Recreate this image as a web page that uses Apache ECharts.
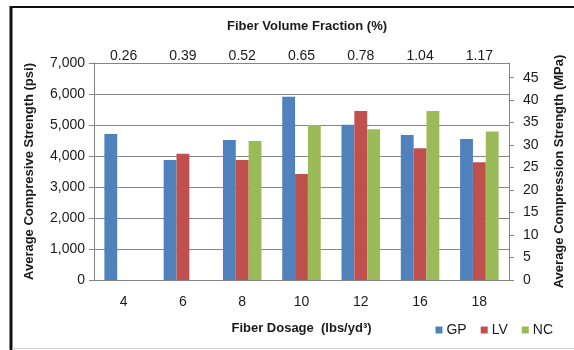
<!DOCTYPE html>
<html><head><meta charset="utf-8">
<script src="https://cdn.jsdelivr.net/npm/echarts@6/dist/echarts.min.js"></script>
<style>html,body{margin:0;padding:0;background:#fff}#c{width:574px;height:350px}</style>
</head><body><div id="c"></div>
<script>
const dosage = ['4','6','8','10','12','16','18'];
const volumeFraction = ['0.26','0.39','0.52','0.65','0.78','1.04','1.17'];
const gp = [4710, 3870, 4520, 5910, 5010, 4680, 4550];
const lv = [null, 4070, 3870, 3420, 5450, 4250, 3800];
const nc = [null, null, 4480, 5000, 4860, 5450, 4790];
const psiMax = 7000;
const mpaPerPsi = 0.00689476;

const FONT = 'Liberation Sans';
const TXT = '#1a1a1a';
const GRID = '#868686';
const chart = echarts.init(document.getElementById('c'), null, {renderer:'canvas'});
chart.setOption({
  animation:false,
  textStyle:{fontFamily:FONT},
  title:{text:'Fiber Volume Fraction (%)', left:302, top:15, textAlign:'center',
    textStyle:{fontSize:13, fontWeight:'bold', color:TXT, fontFamily:FONT}},
  legend:{right:16, top:318, itemWidth:7, itemHeight:7, itemGap:14,
    icon:'rect', textStyle:{fontSize:14, color:TXT, fontFamily:FONT, padding:[0,0,0,-1]}},
  grid:{left:94, right:63, top:63, bottom:70},
  xAxis:[{
    type:'category', data:dosage, position:'bottom',
    name:'Fiber Dosage  (lbs/yd³)', nameLocation:'middle', nameGap:42,
    nameTextStyle:{fontSize:13, fontWeight:'bold', color:TXT},
    axisLine:{lineStyle:{color:GRID}}, axisTick:{length:5, lineStyle:{color:GRID}},
    axisLabel:{fontSize:14, color:TXT, margin:15}
  },{
    type:'category', data:volumeFraction, position:'top',
    axisLine:{show:false}, axisTick:{show:false},
    axisLabel:{fontSize:14, color:TXT, margin:0}
  }],
  yAxis:[{
    type:'value', min:0, max:psiMax, interval:1000,
    name:'Average Compresive Strength (psi)', nameLocation:'middle', nameGap:58,
    nameTextStyle:{fontSize:13, fontWeight:'bold', color:TXT},
    axisLine:{show:true, lineStyle:{color:GRID}}, axisTick:{show:true, length:5, lineStyle:{color:GRID}},
    axisLabel:{fontSize:14, color:TXT, margin:9},
    splitLine:{lineStyle:{color:GRID}}
  },{
    type:'value', min:0, max:psiMax*mpaPerPsi, interval:5, position:'right',
    name:'Average Compression Strength (MPa)', nameLocation:'middle', nameGap:44,
    nameTextStyle:{fontSize:13, fontWeight:'bold', color:TXT},
    axisLine:{show:true, lineStyle:{color:GRID}}, axisTick:{show:true, length:5, lineStyle:{color:GRID}},
    axisLabel:{fontSize:14, color:TXT, margin:14, showMaxLabel:false,
      formatter:v=> (Math.abs(v/5-Math.round(v/5))<1e-6 ? String(Math.round(v)) : '')},
    splitLine:{show:false}
  }],
  series:[
    {name:'GP', type:'bar', data:gp, itemStyle:{color:'#4F81BD'}, barGap:'0%', barCategoryGap:'35%'},
    {name:'LV', type:'bar', data:lv, itemStyle:{color:'#C0504D'}, barGap:'0%', barCategoryGap:'35%'},
    {name:'NC', type:'bar', data:nc, itemStyle:{color:'#9BBB59'}, barGap:'0%', barCategoryGap:'35%'}
  ],
  graphic:[
    {type:'line', shape:{x1:11, y1:7, x2:574, y2:7}, style:{stroke:'#111', lineWidth:2}},
    {type:'line', shape:{x1:11, y1:6, x2:11, y2:350}, style:{stroke:'#111', lineWidth:3}},
    {type:'line', shape:{x1:12, y1:348.5, x2:574, y2:348.5}, style:{stroke:'#d0d0d0', lineWidth:1}}
  ]
});
</script></body></html>
